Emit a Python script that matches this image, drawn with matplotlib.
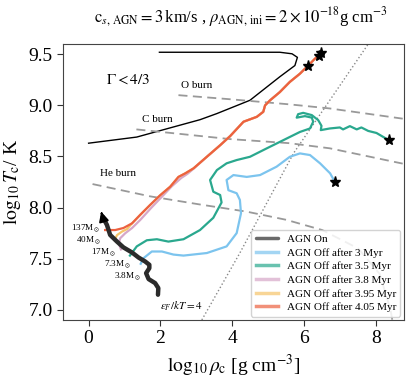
import matplotlib
matplotlib.use("Agg")
import matplotlib.pyplot as plt
import numpy as np

plt.rcParams["font.family"] = ["Liberation Serif", "DejaVu Serif"]
plt.rcParams["mathtext.fontset"] = "stix"

#%% Data
gamma_x = [0.0, 1.34, 2.27, 3.10, 3.57, 4.49, 5.32, 5.74, 5.81, 5.66, 5.32, 1.97]
gamma_y = [8.63, 8.69, 8.78, 8.86, 8.92, 9.05, 9.28, 9.39, 9.47, 9.505, 9.52, 9.52]

oburn_x = [2.5, 3.94, 5.59, 6.71, 8.74]
oburn_y = [9.10, 9.06, 9.01, 8.97, 8.87]
cburn_x = [1.33, 3.94, 5.59, 6.71, 8.74]
cburn_y = [8.765, 8.67, 8.63, 8.58, 8.43]
heburn_x = [0.11, 1.71, 3.10, 4.40, 5.5, 6.5, 7.5, 8.1, 8.4, 8.45]
heburn_y = [8.23, 8.11, 8.03, 7.96, 7.88, 7.78, 7.6, 7.35, 7.0, 6.9]

degen_x = [3.15, 4.2, 5.7, 7.78]
degen_y = [6.9, 7.55, 8.53, 9.6]

agn_on_x = [1.93, 1.94, 1.85, 1.67, 1.60, 1.69, 1.69, 1.575, 1.39, 1.21, 0.97,
            0.79, 0.60, 0.51, 0.39]
agn_on_y = [7.147, 7.212, 7.261, 7.30, 7.358, 7.407, 7.44, 7.472, 7.511, 7.56,
            7.61, 7.667, 7.732, 7.83, 7.91]

off3_x = [1.45, 1.53, 1.76, 2.04, 2.36, 2.64, 3.29, 3.84, 4.12, 4.24, 4.21,
          4.12, 3.89, 3.84, 4.03, 4.40, 4.77, 5.23, 5.60, 5.88, 6.16, 6.44, 6.72, 6.85]
off3_y = [7.45, 7.505, 7.57, 7.57, 7.54, 7.53, 7.555, 7.62, 7.75, 7.944, 8.074,
          8.14, 8.17, 8.27, 8.318, 8.30, 8.318, 8.40, 8.497, 8.53, 8.514, 8.433, 8.335, 8.253]

off35_x = [1.15, 1.34, 1.62, 1.90, 2.22, 2.64, 3.10, 3.47, 3.70, 3.66, 3.47, 3.38,
           3.57, 3.84, 4.12, 4.49, 4.96, 5.42, 5.88, 6.16, 6.25, 6.21, 6.02, 5.79,
           5.83, 5.97, 6.21, 6.39, 6.48, 6.46, 6.71, 6.99, 7.08, 7.27, 7.46, 7.59,
           7.78, 8.01, 8.35]
off35_y = [7.53, 7.62, 7.68, 7.69, 7.667, 7.69, 7.78, 7.90, 8.05, 8.123, 8.155, 8.27,
           8.367, 8.433, 8.465, 8.497, 8.58, 8.66, 8.74, 8.774, 8.84, 8.88, 8.895, 8.88,
           8.914, 8.927, 8.905, 8.855, 8.80, 8.758, 8.774, 8.784, 8.765, 8.797, 8.765, 8.784,
           8.75, 8.73, 8.66]

off38_x = [0.9, 0.84, 0.88, 1.02, 1.21, 1.44, 1.75, 2.05, 2.32, 2.58, 2.75,
           2.92, 3.29, 3.66, 3.94, 4.31, 4.68, 4.86, 4.91, 5.05, 5.32, 5.60, 5.88, 6.11]
off38_y = [7.59, 7.65, 7.70, 7.749, 7.80, 7.88, 8.00, 8.11, 8.21, 8.29, 8.33,
           8.38, 8.497, 8.61, 8.70, 8.84, 8.888, 8.937, 9.0, 9.05, 9.13, 9.23, 9.31, 9.39]

off395_x = [0.72, 0.79, 0.93, 1.07, 1.21, 1.44, 1.71, 1.99, 2.27, 2.50, 2.69, 2.92,
            3.29, 3.66, 3.94, 4.31, 4.68, 4.86, 4.91, 5.05, 5.32, 5.60, 5.88, 6.11, 6.30, 6.40]
off395_y = [7.68, 7.73, 7.765, 7.79, 7.846, 7.93, 8.025, 8.12, 8.204, 8.30, 8.335, 8.384,
            8.497, 8.61, 8.70, 8.84, 8.888, 8.937, 9.0, 9.05, 9.13, 9.23, 9.31, 9.39, 9.458, 9.48]

off405_x = [0.46, 0.74, 0.97, 1.21, 1.44, 1.71, 1.99, 2.27, 2.50, 2.69, 2.92,
            3.29, 3.66, 3.94, 4.31, 4.68, 4.86, 4.91, 5.05, 5.32, 5.60, 5.88, 6.11, 6.30, 6.47]
off405_y = [7.78, 7.78, 7.80, 7.846, 7.93, 8.025, 8.12, 8.204, 8.30, 8.335, 8.384,
            8.497, 8.61, 8.70, 8.84, 8.888, 8.937, 9.0, 9.05, 9.13, 9.23, 9.31, 9.39, 9.458, 9.51]

mass_labels = [r"137M$_\odot$", r"40M$_\odot$", r"17M$_\odot$", r"7.3M$_\odot$", r"3.8M$_\odot$"]
mass_x = [0.33, 0.35, 0.77, 1.19, 1.46]
mass_y = [7.795, 7.68, 7.565, 7.446, 7.33]

#%% Plotting
fig = plt.figure(figsize=(4.15, 3.8), dpi=100)
ax = fig.add_axes([0.152, 0.158, 0.821, 0.726])

ax.plot(gamma_x, gamma_y, color="black", lw=1.0)
for bx, by in [(oburn_x, oburn_y), (cburn_x, cburn_y), (heburn_x, heburn_y)]:
    ax.plot(bx, by, color="#999999", lw=1.3, ls=(0, (5, 3)))
ax.plot(degen_x, degen_y, color="#888888", lw=1.0, ls=":")

ax.text(1.10, 9.25, r"$\Gamma < 4/3$", fontsize=11, ha="center", va="center")
ax.text(3.01, 9.19, "O burn", fontsize=8, ha="center", va="center")
ax.text(1.92, 8.86, "C burn", fontsize=8, ha="center", va="center")
ax.text(0.81, 8.33, "He burn", fontsize=8, ha="center", va="center")
ax.text(2.59, 7.03, r"$\epsilon_F/kT = 4$", fontsize=8, ha="center", va="center")

tracks = [
    (off3_x, off3_y, "#7cc4ee", "AGN Off after 3 Myr"),
    (off35_x, off35_y, "#2aa88e", "AGN Off after 3.5 Myr"),
    (off38_x, off38_y, "#d6a7c8", "AGN Off after 3.8 Myr"),
    (off395_x, off395_y, "#f6c46a", "AGN Off after 3.95 Myr"),
    (off405_x, off405_y, "#ec6140", "AGN Off after 4.05 Myr"),
]

ax.plot(agn_on_x, agn_on_y, color="#2b2b2b", lw=3.2, solid_capstyle="round",
        label="AGN On", zorder=5)
ax.annotate("", xy=(0.35, 7.96), xytext=(agn_on_x[-1], agn_on_y[-1]),
            arrowprops=dict(arrowstyle="-|>", color="black", lw=1.5,
                            mutation_scale=14), zorder=6)

for tx, ty, col, lab in tracks:
    ax.plot(tx, ty, color=col, lw=1.6, label=lab, zorder=3)
    ax.plot(tx[-1], ty[-1], marker="*", color="black", ms=8, zorder=7)

for lab, mx, my in zip(mass_labels, mass_x, mass_y):
    ax.text(mx, my, lab, fontsize=6.6, ha="right", va="center")

ax.set_xlim(-0.71, 8.77)
ax.set_ylim(6.9, 9.6)
ax.set_xticks([0, 2, 4, 6, 8])
ax.set_yticks([7.0, 7.5, 8.0, 8.5, 9.0, 9.5])
ax.set_yticklabels(["7.0", "7.5", "8.0", "8.5", "9.0", "9.5"])
ax.tick_params(labelsize=14, direction="out", length=4, color="#333333")
for sp in ax.spines.values():
    sp.set_color("#444444")
ax.set_xlabel(r"$\log_{10}\rho_{\rm c}$ [g cm$^{-3}$]", fontsize=14)
ax.set_ylabel(r"$\log_{10}T_{\rm c}$/ K", fontsize=14)
fig.text(0.58, 0.955, r"${\rm c}_{s,\,\rm AGN}=3\,$km/s , $\rho_{\rm AGN,\,ini}=2\times10^{-18}$g cm$^{-3}$",
         fontsize=12, ha="center", va="center")

leg = ax.legend(loc="lower right", fontsize=8, framealpha=0.85, borderaxespad=0.3,
                handlelength=2.0, labelspacing=0.35)
for h in leg.get_lines():
    h.set_alpha(0.7)
    h.set_linewidth(2.5)

fig.savefig("out.png", dpi=100)
